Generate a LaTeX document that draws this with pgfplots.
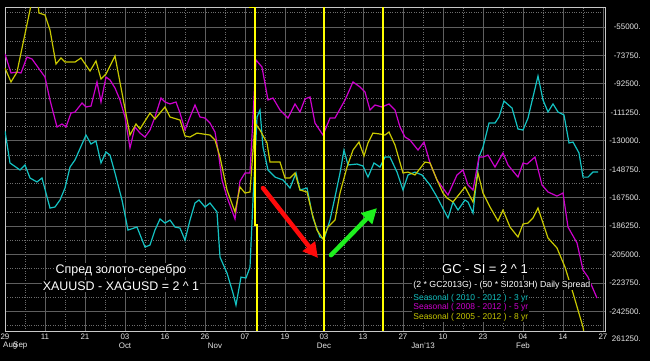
\documentclass[border=0pt]{standalone}
\usepackage{fontspec}
\setmainfont{Liberation Sans}
\usepackage{pgfplots}
\pgfplotsset{compat=1.18}
\usetikzlibrary{arrows.meta}
\definecolor{cy}{RGB}{20,195,195}
\definecolor{mg}{RGB}{205,0,205}
\definecolor{ol}{RGB}{200,200,0}
\definecolor{mk}{RGB}{255,255,0}
\definecolor{gridc}{RGB}{95,95,95}
\definecolor{gridm}{RGB}{110,110,110}
\definecolor{framec}{RGB}{200,200,200}
\definecolor{lbl}{RGB}{230,230,230}
\definecolor{arrred}{RGB}{255,10,10}
\definecolor{arrgreen}{RGB}{30,240,30}

\pgfplotstableread{
x y
5 -82000
11 -91200
17 -84700
30 -43800
33 -33900
37 -33900
39 -45800
45 -47100
50 -57000
56 -79400
61 -75400
65 -78100
75 -78100
81 -75400
90 -84000
96 -77400
101 -89300
106 -86000
115 -74100
130 -126200
136 -118900
140 -122200
150 -111700
155 -115600
165 -107700
170 -114300
180 -116300
185 -126800
190 -127500
197 -124900
203 -125500
210 -126200
215 -129500
220 -140700
227 -162400
235 -176900
240 -160400
245 -164400
250 -163700
255 -118300
260 -122900
267 -131400
270 -144000
280 -144000
285 -154500
290 -154500
295 -151200
300 -162400
307 -163700
312 -177600
317 -188800
323 -194700
328 -186800
335 -182200
340 -164400
347 -147300
353 -136100
359 -130800
364 -140000
368 -131400
373 -124900
380 -125500
385 -126200
389 -124200
395 -132800
403 -151200
408 -150600
415 -152500
425 -144000
430 -144600
437 -155800
443 -164400
447 -167700
453 -170300
465 -160400
473 -170300
478 -151200
483 -164400
490 -173600
498 -182800
503 -175600
510 -186800
518 -193400
523 -184800
528 -184200
533 -180900
538 -174300
548 -194000
557 -200600
565 -213200
573 -230300
578 -241500
583 -252700
586 -264600
}\yellowdata

\pgfplotstableread{
x y
5 -72800
11 -85300
17 -84700
21 -85300
27 -74800
32 -76100
45 -88000
50 -103100
57 -120900
62 -118900
66 -120900
71 -111700
75 -111000
82 -105100
86 -107700
91 -107100
97 -91200
101 -104400
106 -88000
110 -89900
115 -95200
120 -103100
125 -114300
130 -134700
135 -120900
140 -124900
145 -127500
150 -122900
155 -114300
161 -101800
165 -104400
170 -105700
176 -104400
180 -111700
185 -122900
190 -114300
195 -106400
200 -114300
205 -115000
210 -118300
215 -124200
218 -136100
222 -155800
227 -167000
235 -181500
240 -156500
245 -151200
250 -151200
253 -114300
256 -76700
262 -81400
268 -103100
273 -101800
280 -109700
288 -115000
295 -105700
300 -111000
305 -102400
310 -101100
315 -118300
323 -126200
330 -115000
335 -115000
345 -103100
353 -91200
360 -94500
365 -97800
370 -109700
375 -106400
382 -107700
389 -105700
395 -109700
400 -120900
405 -127500
410 -129500
418 -136100
424 -130800
430 -144600
437 -155800
448 -165700
457 -152500
463 -149200
468 -159100
473 -162400
479 -140700
483 -140700
488 -139400
495 -147300
503 -138000
508 -145900
518 -153900
523 -144600
527 -145300
535 -140700
542 -159100
548 -163700
557 -166400
563 -164400
568 -186800
577 -197300
583 -215100
588 -219800
597 -233600
}\magentadata

\pgfplotstableread{
x y
5 -123500
10 -144600
20 -149200
25 -145900
30 -154500
37 -157100
42 -154500
50 -174300
55 -173600
60 -169000
65 -161100
70 -147300
75 -142600
86 -126200
91 -132100
96 -130100
101 -144600
106 -137400
110 -139400
115 -151200
122 -169000
128 -188800
137 -186800
145 -200000
150 -198700
155 -188800
160 -181500
165 -184200
170 -182200
175 -186800
180 -187500
185 -195400
190 -182200
195 -171000
199 -169000
205 -173600
210 -171000
217 -176900
220 -206600
227 -217100
233 -230300
236 -238200
241 -219800
246 -220400
250 -213200
253 -169000
257 -114300
260 -109700
263 -134100
268 -149200
275 -153900
283 -155800
290 -161100
296 -151200
300 -162400
307 -161100
313 -180900
320 -193400
324 -194700
330 -182200
335 -167000
340 -151200
344 -136100
348 -145900
357 -145300
363 -146600
368 -153900
374 -144600
380 -147300
385 -140700
390 -140700
397 -150600
403 -162400
408 -152500
415 -150600
422 -152500
430 -159100
437 -167000
448 -180900
453 -170300
458 -175600
465 -169000
468 -170300
473 -177600
479 -140700
483 -134100
489 -118300
495 -118300
499 -114300
504 -103800
512 -108400
518 -122200
523 -122900
528 -115000
533 -101100
538 -87300
543 -103100
548 -111000
553 -105700
558 -111000
564 -113000
569 -131400
573 -130800
579 -138000
583 -153900
588 -153900
593 -150600
598 -150600
}\cyandata

\begin{document}
\begin{tikzpicture}
\fill[black] (0,0) rectangle (650bp,361bp);
\useasboundingbox (0,0) rectangle (650bp,361bp);
\begin{axis}[
  at={(5bp,30bp)}, anchor=south west,
  scale only axis, width=600bp, height=323.5bp,
  xmin=5, xmax=605, ymin=-255300, ymax=-42150,
  axis line style={framec, line width=0.9bp},
  xtick={5,45,85,125,165,205,245,285,324,363,403,443,483,523,563,603},
  xticklabels={29,11,21,03,16,26,07,19,03,13,27,10,23,04,14,27},
  minor xtick={25,65,105,145,185,225,265,305,344,383,423,463,503,543,583},
  ytick={-55000,-73750,-92500,-111250,-130000,-148750,-167500,-186250,-205000,-223750,-242500},
  yticklabels={-55000.,-73750.,-92500.,-111250.,-130000.,-148750.,-167500.,-186250.,-205000.,-223750.,-242500.},
  minor ytick={-45625,-64375,-83125,-101875,-120625,-139375,-158125,-176875,-195625,-214375,-233125,-251875},
  scaled y ticks=false,
  grid=both,
  major grid style={gridc, line width=0.9bp},
  minor grid style={gridm, dotted, line width=0.9bp},
  major tick length=0pt, minor tick length=0pt,
  yticklabel pos=right,
  /pgf/number format/assume math mode=true,
  ticklabel style={lbl, font=\fontsize{8}{9}\selectfont, inner sep=0pt},
  yticklabel style={anchor=east, xshift=36bp},
  xticklabel style={anchor=center, yshift=-6bp},
]
\addplot[cy, line width=1.2bp] table {\cyandata};
\addplot[mg, line width=1.2bp] table {\magentadata};
\addplot[ol, line width=1.2bp] table {\yellowdata};
\addplot[mk, line width=1.8bp] coordinates {(249,-42150) (255,-42150) (255,-185500) (257,-185500) (257,-255300)};
\addplot[mk, line width=1.8bp] coordinates {(324,-42150) (324,-255300)};
\addplot[mk, line width=1.8bp] coordinates {(383,-42150) (383,-255300)};
\addplot[arrred, line width=4.5bp, line cap=round, -{Triangle[length=15bp,width=15bp]}] coordinates {(263,-161100) (318,-207200)};
\addplot[arrgreen, line width=4.5bp, line cap=round, -{Triangle[length=15bp,width=15bp]}] coordinates {(331,-205300) (377,-174300)};
\end{axis}
% month labels and extra right label
\begin{scope}[every node/.style={text=lbl, font=\fontsize{8}{9}\selectfont, inner sep=0pt}]
\node[anchor=west] at (3bp,15bp) {Aug};
\node[anchor=west] at (13bp,15bp) {Sep};
\node at (125bp,15bp) {Oct};
\node at (215bp,15bp) {Nov};
\node at (324bp,15bp) {Dec};
\node at (423bp,15bp) {Jan'13};
\node at (523bp,15bp) {Feb};
\node[anchor=east] at (641bp,22bp) {261250.};
\end{scope}
% annotations
\begin{scope}[every node/.style={fill=black, inner sep=1.2bp}]
\node[text=white, font=\fontsize{12.5}{14}\selectfont] at (121bp,91bp) {Спред золото-серебро};
\node[text=white, font=\fontsize{12.5}{14}\selectfont] at (121bp,75bp) {XAUUSD - XAGUSD = 2 \textasciicircum{} 1};
\node[text=white, font=\fontsize{13}{15}\selectfont] at (485bp,92bp) {GC - SI = 2 \textasciicircum{} 1};
\node[text=white, font=\fontsize{8.8}{10}\selectfont, anchor=west] at (412bp,76bp) {(2 * GC2013G) - (50 * SI2013H) Daily Spread};
\node[text=cy, font=\fontsize{8.5}{10}\selectfont, anchor=west] at (412bp,63bp) {Seasonal ( 2010 - 2012 ) - 3 yr};
\node[text=mg, font=\fontsize{8.5}{10}\selectfont, anchor=west] at (412bp,53.5bp) {Seasonal ( 2008 - 2012 ) - 5 yr};
\node[text=ol, font=\fontsize{8.5}{10}\selectfont, anchor=west] at (412bp,44bp) {Seasonal ( 2005 - 2012 ) - 8 yr};
\end{scope}
\end{tikzpicture}
\end{document}
